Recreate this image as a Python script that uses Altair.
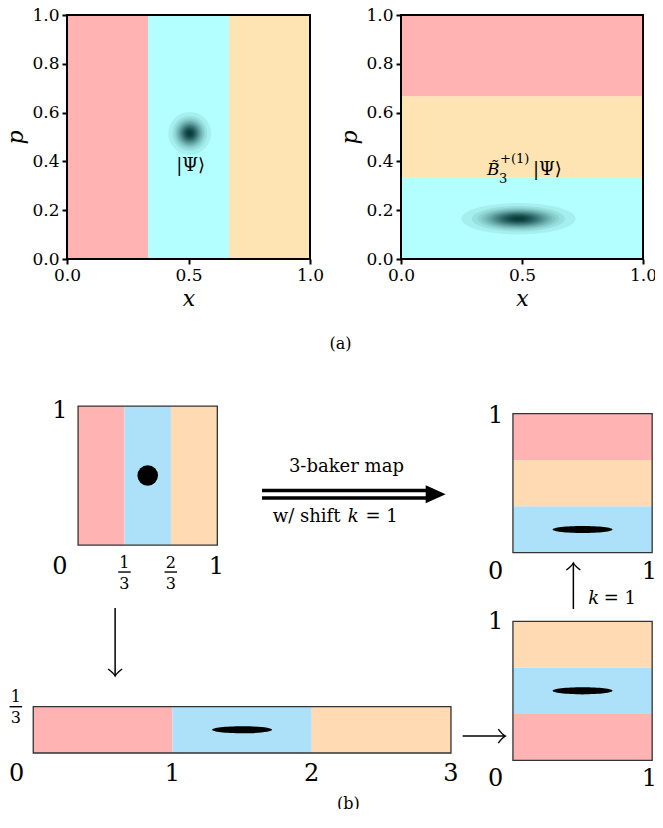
import altair as alt
import pandas as pd

FONT = "DejaVu Serif"

# ---------------- (a) phase-space panels ----------------
thirds = [0.0, 1 / 3, 2 / 3, 1.0]
a_colors_left = ["#FFB3B3", "#B3FFFF", "#FFE4B3"]    # x-thirds, left -> right
a_colors_right = ["#B3FFFF", "#FFE4B3", "#FFB3B3"]   # p-thirds, bottom -> top
x_ticks = [0.0, 0.5, 1.0]
p_ticks = [0.0, 0.2, 0.4, 0.6, 0.8, 1.0]
psi_left_xy = [0.505, 0.515]
psi_right_xy = [0.485, 0.165]
psi_left_label_xy = [0.509, 0.381]
psi_right_label_xy = [0.5, 0.344]

# style: relative radii of the stacked translucent layers that draw a soft blob
blob_rings = [0.893, 0.726, 0.638, 0.576, 0.527, 0.486, 0.451, 0.420, 0.393, 0.368,
              0.345, 0.324, 0.304, 0.285, 0.268, 0.252, 0.236, 0.221, 0.207, 0.193,
              0.180, 0.167, 0.155, 0.142, 0.130, 0.118, 0.105, 0.093, 0.080, 0.065,
              0.049, 0.025]
BLOB_COLOR = "#003030"
BLOB_ALPHA = 0.08

xs = alt.Scale(domain=[0, 1], nice=False, zero=False)
ps = alt.Scale(domain=[0, 1], nice=False, zero=False)

axis_common = dict(labelFont=FONT, labelFontSize=17, labelColor="black",
                   tickColor="black", tickWidth=2, tickSize=5, labelPadding=3,
                   domain=False, grid=False, labelFlush=False, labelOverlap=False,
                   titleFont=FONT, titleFontSize=22, titleFontStyle="italic",
                   titleFontWeight="normal", titleColor="black", format=".1f")
axis_x = alt.Axis(values=x_ticks, title="x", titlePadding=5, **axis_common)
axis_p = alt.Axis(values=p_ticks, title="p", titlePadding=4, **axis_common)


def AX(f):
    return alt.X(f, type="quantitative", scale=xs, axis=axis_x)


def AP(f):
    return alt.Y(f, type="quantitative", scale=ps, axis=axis_p)


def blob_layers(xy, shape, outer_px):
    df = pd.DataFrame({"x": [xy[0]], "p": [xy[1]]})
    out = []
    for s in blob_rings:
        out.append(alt.Chart(df).mark_point(
            shape=shape, filled=True, size=(2 * outer_px * s) ** 2,
            color=BLOB_COLOR, opacity=BLOB_ALPHA, strokeWidth=0
        ).encode(x=AX("x"), y=AP("p")))
    return out


frame_df = pd.DataFrame({"x": [0.0], "x2": [1.0], "p": [0.0], "p2": [1.0]})


def frame():
    return alt.Chart(frame_df).mark_rect(fillOpacity=0, stroke="black", strokeWidth=2).encode(
        x=AX("x"), x2="x2", y=AP("p"), y2="p2")


left_bands = pd.DataFrame({"x": thirds[:-1], "x2": thirds[1:], "p": [0.0] * 3,
                           "p2": [1.0] * 3, "c": a_colors_left})
right_bands = pd.DataFrame({"x": [0.0] * 3, "x2": [1.0] * 3, "p": thirds[:-1],
                            "p2": thirds[1:], "c": a_colors_right})


def bands(df):
    return alt.Chart(df).mark_rect(strokeWidth=0).encode(
        x=AX("x"), x2="x2", y=AP("p"), y2="p2", color=alt.Color("c:N", scale=None))


CIRCLE = "circle"
ELLIPSE_WIDE = "M-1,0 A1,0.274 0 1,0 1,0 A1,0.274 0 1,0 -1,0 Z"

lab_l = pd.DataFrame({"x": [psi_left_label_xy[0]], "p": [psi_left_label_xy[1]], "t": ["|Ψ⟩"]})
left = alt.layer(
    bands(left_bands),
    *blob_layers(psi_left_xy, CIRCLE, 24),
    alt.Chart(lab_l).mark_text(font=FONT, fontSize=18, color="black", baseline="middle").encode(
        x=AX("x"), y=AP("p"), text="t:N"),
    frame(),
).properties(width=243, height=244)

lab_r = pd.DataFrame({"x": [psi_right_label_xy[0]], "p": [psi_right_label_xy[1]]})
rlabel_parts = [  # text, font size, italic, dx, dy
    ("B\u0303", 17, "italic", -35, 0),
    ("3", 13, "normal", -23, 8),
    ("+(1)", 13, "normal", -22, -12),
    ("|Ψ⟩", 18, "normal", 11, 0),
]
rlabel_layers = []
for txt, fs, sty, dx, dy in rlabel_parts:
    rlabel_layers.append(alt.Chart(lab_r).mark_text(
        text=txt, font=FONT, fontSize=fs, fontStyle=sty, color="black",
        align="left", baseline="alphabetic", dx=dx, dy=dy).encode(x=AX("x"), y=AP("p")))

right = alt.layer(
    bands(right_bands),
    *blob_layers(psi_right_xy, ELLIPSE_WIDE, 64),
    *rlabel_layers,
    frame(),
).properties(width=242, height=244)

# ---------------- (b) schematic of the 3-baker map ----------------
pink, blue, peach = "#FFB3B3", "#ADE1F9", "#FFDAB3"
panel_x0 = [0.322, 0.0, 3.445, 3.445]
panel_y0 = [1.496, 0.0, -0.053, 1.441]
panel_w = [1.0, 3.0, 1.0, 1.0]
panel_h = [1.0, 1 / 3, 1.0, 1.0]
panel_split = ["x", "x", "y", "y"]
panel_colors = [[pink, blue, peach], [pink, blue, peach], [pink, blue, peach], [blue, peach, pink]]

dot_xy = [0.822, 1.996]
ell_x = [1.5, 3.945, 3.945]
ell_y = [0.167, 0.447, 1.608]

big_txt = ["1", "0", "1", "0", "1", "2", "3", "1", "0", "1", "1", "0", "1"]
big_x = [0.192, 0.192, 1.315, -0.12, 1.0, 2.0, 3.0, 3.32, 3.32, 4.425, 3.32, 3.32, 4.425]
big_y = [2.46, 1.338, 1.338, -0.151, -0.151, -0.151, -0.151, 0.942, -0.187, -0.187, 2.424, 1.302, 1.302]

frac_num = ["1", "2", "1"]
frac_x = [0.655, 0.988, -0.125]
frac_bar_y = [1.302, 1.302, 0.333]
frac_num_y = [1.367, 1.367, 0.403]
frac_den_y = [1.219, 1.219, 0.252]

arrow_x1 = [0.588, 3.084, 3.879]
arrow_y1 = [1.043, 0.122, 1.036]
arrow_x2 = [0.588, 3.39, 3.879]
arrow_y2 = [0.554, 0.122, 1.367]
arrow_dir = [90, 0, 270]

dbl_x = [1.643, 2.87]
dbl_y = [1.888, 1.835]
dbl_tip = [2.962, 1.862]

XD = [0.2424, 4.3791]
YD = [-0.3453, 3.0360]
bxs = alt.Scale(domain=XD, nice=False, zero=False)
bys = alt.Scale(domain=YD, nice=False, zero=False)


def BX(f):
    return alt.X(f, type="quantitative", scale=bxs, axis=None)


def BY(f):
    return alt.Y(f, type="quantitative", scale=bys, axis=None)


rows = []
for x0, y0, w, h, sp, cols in zip(panel_x0, panel_y0, panel_w, panel_h, panel_split, panel_colors):
    for i, c in enumerate(cols):
        if sp == "x":
            rows.append({"x": x0 + w * i / 3, "x2": x0 + w * (i + 1) / 3, "y": y0, "y2": y0 + h, "c": c})
        else:
            rows.append({"x": x0, "x2": x0 + w, "y": y0 + h * i / 3, "y2": y0 + h * (i + 1) / 3, "c": c})
bband_df = pd.DataFrame(rows)
outline_df = pd.DataFrame({"x": panel_x0, "x2": [a + b for a, b in zip(panel_x0, panel_w)],
                           "y": panel_y0, "y2": [a + b for a, b in zip(panel_y0, panel_h)]})

b_layers = [
    alt.Chart(bband_df).mark_rect(strokeWidth=0).encode(
        x=BX("x"), x2="x2", y=BY("y"), y2="y2", color=alt.Color("c:N", scale=None)),
    alt.Chart(outline_df).mark_rect(fillOpacity=0, stroke="#333333", strokeWidth=1.3).encode(
        x=BX("x"), x2="x2", y=BY("y"), y2="y2"),
    alt.Chart(pd.DataFrame({"x": [dot_xy[0]], "y": [dot_xy[1]]})).mark_point(
        shape="circle", filled=True, size=424, color="black", opacity=1, strokeWidth=0).encode(
        x=BX("x"), y=BY("y")),
    alt.Chart(pd.DataFrame({"x": ell_x, "y": ell_y})).mark_point(
        shape="M-1,0 A1,0.117 0 1,0 1,0 A1,0.117 0 1,0 -1,0 Z", filled=True, size=3600,
        color="black", opacity=1, strokeWidth=0).encode(x=BX("x"), y=BY("y")),
    alt.Chart(pd.DataFrame({"x": big_x, "y": big_y, "t": big_txt})).mark_text(
        font=FONT, fontSize=24, color="black", baseline="middle").encode(
        x=BX("x"), y=BY("y"), text="t:N"),
    alt.Chart(pd.DataFrame({"x": frac_x, "y": frac_num_y, "t": frac_num})).mark_text(
        font=FONT, fontSize=16, color="black", baseline="middle").encode(
        x=BX("x"), y=BY("y"), text="t:N"),
    alt.Chart(pd.DataFrame({"x": frac_x, "y": frac_den_y})).mark_text(
        text="3", font=FONT, fontSize=16, color="black", baseline="middle").encode(
        x=BX("x"), y=BY("y")),
    alt.Chart(pd.DataFrame({"x": [v - 0.045 for v in frac_x], "x2": [v + 0.045 for v in frac_x],
                            "y": frac_bar_y})).mark_rule(color="black", strokeWidth=1.4).encode(
        x=BX("x"), x2="x2", y=BY("y")),
]

# thin arrows
for x1, y1, x2, y2, ang in zip(arrow_x1, arrow_y1, arrow_x2, arrow_y2, arrow_dir):
    d = pd.DataFrame({"x": [x1], "y": [y1], "x2": [x2], "y2": [y2]})
    b_layers.append(alt.Chart(d).mark_rule(color="black", strokeWidth=1.5).encode(
        x=BX("x"), y=BY("y"), x2="x2", y2="y2"))
    b_layers.append(alt.Chart(d).mark_point(
        shape="M-1,-1 Q-0.4,-0.2 0,0 Q-0.4,0.2 -1,1", filled=False, size=196, angle=ang,
        color="black", opacity=1, strokeWidth=1.4).encode(x=BX("x2"), y=BY("y2")))

# double arrow
dd = pd.DataFrame({"x": [dbl_x[0]] * 2, "x2": [dbl_x[1]] * 2, "y": dbl_y})
b_layers.append(alt.Chart(dd).mark_rule(color="black", strokeWidth=3.5).encode(
    x=BX("x"), x2="x2", y=BY("y")))
b_layers.append(alt.Chart(pd.DataFrame({"x": [dbl_tip[0]], "y": [dbl_tip[1]]})).mark_point(
    shape="M-1,-0.45 L0,0 L-1,0.45 Z", filled=True, size=1600, color="black", opacity=1,
    strokeWidth=0).encode(x=BX("x"), y=BY("y")))

# captions
cap_parts = [  # text, x, y, align, style, size
    ("3-baker map", 2.249, 2.022, "center", "normal", 18),
    ("w/ shift", 2.206, 1.662, "right", "normal", 18),
    ("k", 2.297, 1.662, "center", "italic", 18),
    ("= 1", 2.386, 1.662, "left", "normal", 18),
    ("k", 4.025, 1.072, "center", "italic", 18),
    ("= 1", 4.097, 1.072, "left", "normal", 18),
    ("(a)", 2.206, 2.905, "center", "normal", 16),
    ("(b)", 2.263, -0.403, "center", "normal", 16),
]
for txt, x, y, al, sty, fs in cap_parts:
    b_layers.append(alt.Chart(pd.DataFrame({"x": [x], "y": [y]})).mark_text(
        text=txt, font=FONT, fontSize=fs, fontStyle=sty, align=al, baseline="alphabetic",
        color="black").encode(x=BX("x"), y=BY("y")))

bottom = alt.layer(*b_layers).properties(width=576, height=470)

top = alt.hconcat(left, right, spacing=91, bounds="flush")
chart = alt.vconcat(top, bottom, spacing=22, bounds="full",
                    padding={"left": -4, "top": -2, "right": -3, "bottom": -4},
                    background="white").configure_view(strokeWidth=0)

chart.save("out.html", embed_options={"renderer": "svg", "actions": False})
